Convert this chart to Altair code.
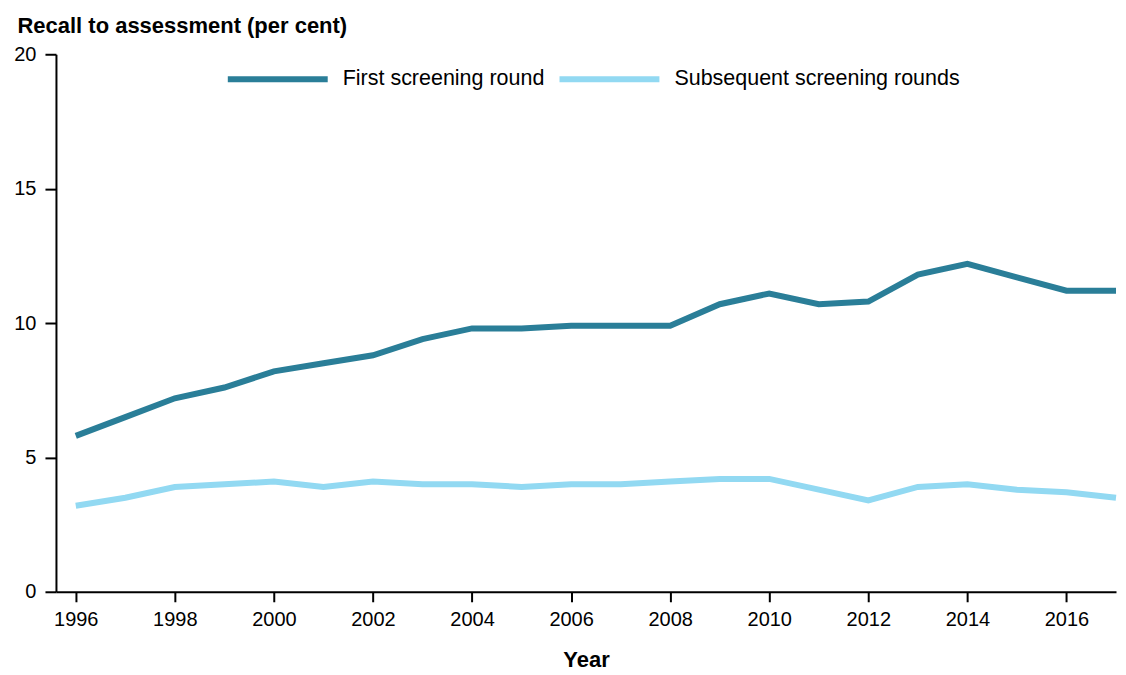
import altair as alt
import pandas as pd

years = list(range(1996, 2018))
first_round = [5.8, 6.5, 7.2, 7.6, 8.2, 8.5, 8.8, 9.4, 9.8, 9.8, 9.9,
               9.9, 9.9, 10.7, 11.1, 10.7, 10.8, 11.8, 12.2, 11.7, 11.2, 11.2]
subsequent = [3.2, 3.5, 3.9, 4.0, 4.1, 3.9, 4.1, 4.0, 4.0, 3.9, 4.0,
              4.0, 4.1, 4.2, 4.2, 3.8, 3.4, 3.9, 4.0, 3.8, 3.7, 3.5]
series_names = ["First screening round", "Subsequent screening rounds"]
colors = ["#2a7e98", "#92d9f2"]

rows = []
for y, a, b in zip(years, first_round, subsequent):
    rows.append({"Year": y, "Series": series_names[0], "Value": a})
    rows.append({"Year": y, "Series": series_names[1], "Value": b})
df = pd.DataFrame(rows)

FONT = "Liberation Sans"

chart = alt.Chart(df).mark_line(strokeWidth=6, strokeJoin="miter").encode(
    x=alt.X("Year:Q",
            scale=alt.Scale(domain=[1995.6, 2017.0], nice=False, zero=False),
            axis=alt.Axis(values=list(range(1996, 2017, 2)), format="d",
                          title="Year", titleFontSize=22, titleFontWeight="bold",
                          titlePadding=20, labelFontSize=20, labelPadding=8,
                          tickSize=10, tickColor="black", domainColor="black",
                          domainWidth=2, tickWidth=2, grid=False, labelColor="black",
                          titleColor="black", labelFlush=False)),
    y=alt.Y("Value:Q",
            scale=alt.Scale(domain=[0, 20], nice=False),
            axis=alt.Axis(values=[0, 5, 10, 15, 20], title="Recall to assessment (per cent)",
                          titleAngle=0, titleAlign="left", titleBaseline="middle",
                          titleX=-39, titleY=-29, titleFontSize=22, titleFontWeight="bold",
                          labelFontSize=20, labelPadding=9, tickSize=11,
                          tickColor="black", domainColor="black", domainWidth=2,
                          tickWidth=2, grid=False, labelColor="black", titleColor="black")),
    color=alt.Color("Series:N",
                    scale=alt.Scale(domain=series_names, range=colors),
                    legend=alt.Legend(title=None, orient="none", direction="horizontal",
                                      legendX=169, legendY=-28,
                                      symbolType="stroke", symbolSize=10000,
                                      symbolStrokeWidth=6, labelFontSize=21.5,
                                      labelLimit=0, labelOffset=12, columnPadding=3,
                                      padding=0, labelColor="black")),
).properties(
    width=1061, height=538,
    padding={"left": 48, "top": 46, "right": 2, "bottom": 83},
    autosize=alt.AutoSizeParams(type="none"),
).configure(font=FONT).configure_view(stroke=None)

chart.save("out.html", embed_options={"renderer": "svg", "actions": False})
